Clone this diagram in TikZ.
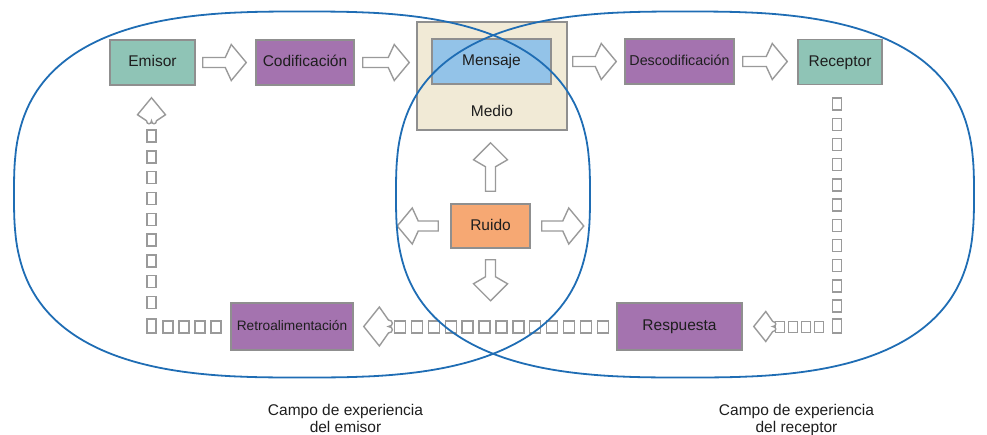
\documentclass[tikz,border=0pt]{standalone}
\usepackage{fontspec}
\setmainfont{Liberation Sans}
\usetikzlibrary{calc}
\definecolor{tealbox}{HTML}{8FC4B6}
\definecolor{purpbox}{HTML}{A473AF}
\definecolor{msgblue}{HTML}{93C3E8}
\definecolor{beigebox}{HTML}{F1EAD6}
\definecolor{orngbox}{HTML}{F6A873}
\definecolor{ringblue}{HTML}{1F6DB4}
\definecolor{edgegray}{HTML}{8F8F8F}
\definecolor{arrgray}{HTML}{9A9A9A}
\definecolor{txtcol}{HTML}{1E1E1E}
\tikzset{
  box/.style={draw=edgegray, line width=1.5pt, minimum height=45, inner sep=0,
    text=txtcol, text height=11, text depth=3, font=\fontsize{15.5}{18}\selectfont},
  hollow/.style={draw=arrgray, fill=white, line width=1.4pt, line join=miter},
  sq/.style={draw=arrgray, fill=white, line width=1.4pt},
  ring/.style={draw=ringblue, line width=1.8pt},
  caption/.style={align=center, inner sep=0, text=txtcol, font=\fontsize{15.5}{17}\selectfont}
}
% horizontal hollow block arrow: start, tip
\newcommand\harr[2]{%
  \draw[hollow] let \p1=(#1), \p2=(#2), \n1={sign(\x2-\x1)} in
    (\x1,\y1-5pt) -- ({\x2-\n1*21pt},\y1-5pt) -- ({\x2-\n1*15pt},\y1-18pt) -- (\x2,\y1)
    -- ({\x2-\n1*15pt},\y1+18pt) -- ({\x2-\n1*21pt},\y1+5pt) -- (\x1,\y1+5pt) -- cycle;}
% vertical hollow block arrow: start, tip
\newcommand\varr[2]{%
  \draw[hollow] let \p1=(#1), \p2=(#2), \n1={sign(\y2-\y1)} in
    (\x1-5pt,\y1) -- (\x1-5pt,{\y2-\n1*24pt}) -- (\x1-17pt,{\y2-\n1*17pt}) -- (\x1,\y2)
    -- (\x1+17pt,{\y2-\n1*17pt}) -- (\x1+5pt,{\y2-\n1*24pt}) -- (\x1+5pt,\y1) -- cycle;}
% notched arrow heads of the feedback chain
\newcommand\notchleft[2]{%
  \draw[hollow, shift={(#1)}, scale=#2] (0,0) -- (12,-15) -- (19,-5)
    .. controls (23,-5) and (23,0) .. (19,0) .. controls (23,0) and (23,5) .. (19,5)
    -- (12,15) -- cycle;}
\newcommand\notchup[2]{%
  \draw[hollow, shift={(#1)}, scale=#2] (0,0) -- (14,17) -- (5,23)
    .. controls (5,27) and (0,27) .. (0,23) .. controls (0,27) and (-5,27) .. (-5,23)
    -- (-14,17) -- cycle;}
\begin{document}
\begin{tikzpicture}[x=1pt,y=-1pt]
\useasboundingbox (0,0) rectangle (987,434);

% boxes
\node[box, fill=tealbox, minimum width=85] (emisor) at (152.5,62.5) {Emisor};
\node[box, fill=purpbox, minimum width=98] (codif) at (305,62.5) {Codificación};
\node[box, fill=beigebox, minimum width=150, minimum height=108] (medio) at (492,76) {};
\node[box, fill=msgblue, minimum width=119] (mensaje) at (491.5,61.5) {Mensaje};
\node[text=txtcol, font=\fontsize{15.5}{18}\selectfont, inner sep=0] (mediolbl) at (492,111) {Medio};
\node[box, fill=purpbox, minimum width=109, font=\fontsize{14.3}{17}\selectfont] (desc) at (679.5,61.5) {Descodificación};
\node[box, fill=tealbox, minimum width=84] (receptor) at (840,62) {Receptor};
\node[box, fill=orngbox, minimum width=79, minimum height=44] (ruido) at (490.5,226) {Ruido};
\node[box, fill=purpbox, minimum width=122, minimum height=47, font=\fontsize{13.7}{16}\selectfont] (retro) at (292,326.5) {Retroalimentación};
\node[box, fill=purpbox, minimum width=125, minimum height=47] (resp) at (679.5,326.5) {Respuesta};

% main flow arrows
\harr{$(emisor.east)+(7,0)$}{$(codif.west)+(-9,0)$}
\harr{$(codif.east)+(8,0)$}{$(medio.west)+(-7,0)$}
\harr{$(mensaje.east -| medio.east)+(5,0)$}{$(desc.west)+(-8,0)$}
\harr{$(desc.east)+(8,0)$}{$(receptor.west)+(-10,0)$}

% noise arrows
\coordinate (nL) at ($(ruido.west)+(-53,0)$);
\coordinate (nR) at ($(ruido.east)+(53,0)$);
\coordinate (nD) at ($(ruido.south)+(0,52)$);
\varr{$(ruido.north)+(0,-12)$}{$(medio.south)+(0,12)$}
\harr{$(ruido.west)+(-12,0)$}{nL}
\harr{$(ruido.east)+(11,0)$}{nR}
\varr{$(ruido.south)+(0,11)$}{nD}

% feedback chain: Receptor -> Respuesta
\foreach \k in {0,...,10} \draw[sq] (832.5,{98+20.2*\k}) rectangle ++(9,12);
\draw[sq] (832.5,319) rectangle ++(9,14);
\foreach \x in {780,793,806,819} \draw[sq] ({\x-4.5},321.5) rectangle ++(9,11);
\coordinate (tipR) at ($(resp.east)+(11,0)$);
\notchleft{tipR}{1}

% feedback chain: Respuesta -> Retroalimentacion
\foreach \k in {0,...,12} \draw[sq] ({394.5+16.9*\k},321) rectangle ++(11,12);
\coordinate (tipM) at ($(retro.east)+(10,0)$);
\notchleft{tipM}{1.3}

% feedback chain: Retroalimentacion -> Emisor
\foreach \x in {168,184,200,216} \draw[sq] ({\x-5},321) rectangle ++(10,12);
\draw[sq] (147,319) rectangle ++(9,14);
\foreach \k in {0,...,8} \draw[sq] (147,{130+20.8*\k}) rectangle ++(9,12);
\coordinate (tipL) at ($(emisor.south)+(-1,12)$);
\notchup{tipL}{1}

% fields of experience
\draw[ring] plot[domain=0.375:360.375, samples=481, variable=\t]
  ({302+288*sign(cos(\t))*pow(abs(cos(\t)),0.72)},{194.5+183*sign(sin(\t))*pow(abs(sin(\t)),0.72)}) -- cycle;
\draw[ring] plot[domain=0.375:360.375, samples=481, variable=\t]
  ({685+289*sign(cos(\t))*pow(abs(cos(\t)),0.72)},{194.5+183*sign(sin(\t))*pow(abs(sin(\t)),0.72)}) -- cycle;

% captions
\node[caption, anchor=north] (capE) at (345.5,404) {Campo de experiencia\\del emisor};
\node[caption, anchor=north] (capR) at (796.5,404) {Campo de experiencia\\del receptor};
\end{tikzpicture}
\end{document}
